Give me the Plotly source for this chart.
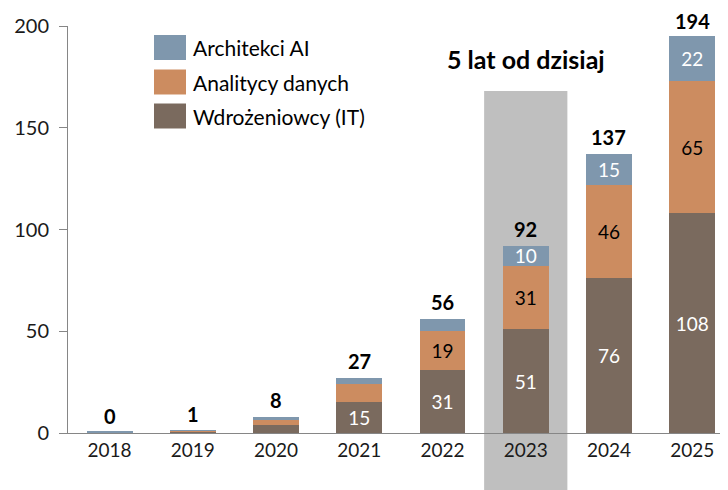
import plotly.graph_objects as go

years = ["2018", "2019", "2020", "2021", "2022", "2023", "2024", "2025"]
wdrozeniowcy = [0.2, 0.5, 3.8, 15, 31, 51, 76, 108]
analitycy = [0.1, 0.5, 2.7, 9, 19, 31, 46, 65]
architekci = [0.3, 0.1, 1.4, 3, 6, 10, 15, 22]
totals = [0, 1, 8, 27, 56, 92, 137, 194]

w_labels = ["", "", "", "15", "31", "51", "76", "108"]
a_labels = ["", "", "", "", "19", "31", "46", "65"]
ar_labels = ["", "", "", "", "", "10", "15", "22"]

C_W = "#7A6A5E"
C_A = "#CC8C60"
C_AR = "#7F97AD"
FONT = "Lato"
FS = 19
TXT = "#1a1a1a"

fig = go.Figure()
common = dict(x=years, width=0.55, textposition="inside", insidetextanchor="middle",
              textangle=0, constraintext="none", hoverinfo="skip", showlegend=False)
fig.add_trace(go.Bar(y=wdrozeniowcy, name="Wdrożeniowcy (IT)", marker=dict(color=C_W, line_width=0),
                     text=w_labels, textfont=dict(color="white", size=FS, family=FONT), **common))
fig.add_trace(go.Bar(y=analitycy, name="Analitycy danych", marker=dict(color=C_A, line_width=0),
                     text=a_labels, textfont=dict(color="black", size=FS, family=FONT), **common))
fig.add_trace(go.Bar(y=architekci, name="Architekci AI", marker=dict(color=C_AR, line_width=0),
                     text=ar_labels, textfont=dict(color="white", size=FS, family=FONT), **common))

PH = 407.0
PW = 660.0
def py(pix):
    return (433 - pix) / PH

def px(pix):
    return (pix - 68) / PW

annotations = []
for i, t in enumerate(totals):
    annotations.append(dict(x=i, y=t, xref="x", yref="y", text=f"<b>{t}</b>", showarrow=False,
                            yanchor="bottom", yshift=3, font=dict(size=20, family=FONT, color="black")))

annotations.append(dict(x=px(526), y=py(59), xref="paper", yref="paper", text="<b>5 lat od dzisiaj</b>",
                        showarrow=False, xanchor="center", yanchor="middle",
                        font=dict(size=25, family=FONT, color="black")))

legend_items = [("Architekci AI", C_AR, 47.5), ("Analitycy danych", C_A, 82), ("Wdrożeniowcy (IT)", C_W, 116)]
shapes = [dict(type="rect", xref="x", yref="paper", x0=4.5, x1=5.5, y0=py(495), y1=py(91),
               fillcolor="#BFBFBF", line_width=0, layer="below")]
for name, col, yc in legend_items:
    shapes.append(dict(type="rect", xref="paper", yref="paper", x0=px(154), x1=px(186),
                       y0=py(yc + 12.5), y1=py(yc - 12.5), fillcolor=col, line_width=0))
    annotations.append(dict(x=px(191), y=py(yc), xref="paper", yref="paper", text=name,
                            showarrow=False, xanchor="left", yanchor="middle",
                            font=dict(size=21, family=FONT, color="black")))

# page body has an 8px default margin: figure spans window x 8..728, y 8..490
fig.update_layout(
    barmode="stack",
    width=720, height=482,
    margin=dict(l=60, r=0, t=18, b=57, autoexpand=False),
    paper_bgcolor="white", plot_bgcolor="rgba(0,0,0,0)",
    font=dict(family=FONT, size=FS, color=TXT),
    shapes=shapes,
    annotations=annotations,
    uniformtext=dict(minsize=FS, mode="show"),
)
fig.update_xaxes(type="category", range=[-0.5, 7.43], showline=True, linecolor="#868686", linewidth=1,
                 ticks="", showgrid=False, automargin=False,
                 tickfont=dict(size=FS, family=FONT, color=TXT))
fig.update_yaxes(range=[0, 200], tickvals=[0, 50, 100, 150, 200], showline=True, linecolor="#868686",
                 linewidth=1, ticks="outside", ticklen=8, tickcolor="#868686", showgrid=False,
                 zeroline=False, ticklabelstandoff=6, automargin=False,
                 tickfont=dict(size=20, family=FONT, color=TXT))

fig.write_html("out.html")
